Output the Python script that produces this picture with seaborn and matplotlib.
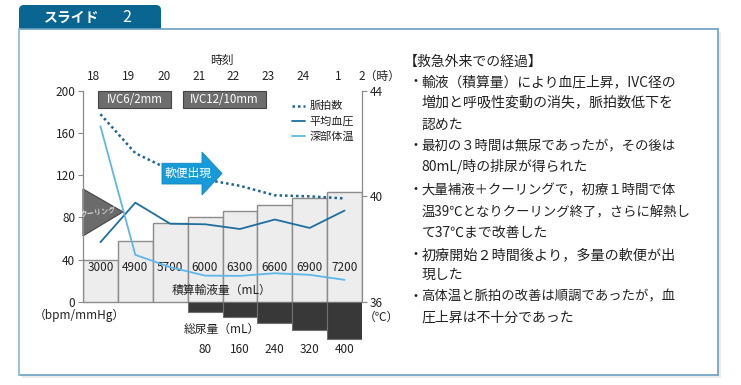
import numpy as np
import matplotlib
matplotlib.use("Agg")
import matplotlib.pyplot as plt
import seaborn as sns
from matplotlib.patches import Polygon, Rectangle, FancyBboxPatch

# ---------------- data ----------------
time_labels = ["18", "19", "20", "21", "22", "23", "24", "1"]
time_last = "2（時）"
fluid_labels = ["3000", "4900", "5700", "6000", "6300", "6600", "6900", "7200"]
fluid_bar = [40, 58, 75, 80, 86, 92, 98, 104]            # bar heights (left-axis units)
urine_labels = ["80", "160", "240", "320", "400"]
urine_bar = [9.5, 15, 20.5, 27, 35.5]                     # depth below zero (left-axis units)
pulse = [178, 141, 125, 116, 110, 101, 100, 98]           # bpm
mean_bp = [56.5, 94, 74, 73.5, 69, 78, 70, 86.5]          # mmHg
core_temp = [42.66, 37.78, 37.31, 36.99, 36.98, 37.08, 37.02, 36.83]  # °C

text_lines = [
    "輸液（積算量）により血圧上昇，IVC径の",
    "増加と呼吸性変動の消失，脈拍数低下を",
    "認めた",
    "最初の３時間は無尿であったが，その後は",
    "80mL/時の排尿が得られた",
    "大量補液＋クーリングで，初療１時間で体",
    "温39℃となりクーリング終了，さらに解熱し",
    "て37℃まで改善した",
    "初療開始２時間後より，多量の軟便が出",
    "現した",
    "高体温と脈拍の改善は順調であったが，血",
    "圧上昇は不十分であった",
]
bullet_start = [True, False, False, True, False, True, False, False, True, False, True, False]
line_y = [82, 102.7, 125, 146, 166.7, 190, 212.3, 233, 255, 275, 296.7, 318]
line_end = [676.7, 673.3, None, 676.7, None, 676.7, 675, None, 675, None, 675, None]

# ---------------- style ----------------
sns.set_style("white")
plt.rcParams["font.family"] = ["Noto Sans CJK JP", "DejaVu Sans"]
TXT = "#222222"
GRAY = "#8a8a8a"

fig = plt.figure(figsize=(7.41, 3.85), dpi=100)

# background / slide frame in pixel coordinates
bg = fig.add_axes([0, 0, 1, 1], zorder=0)
bg.set_xlim(0, 741)
bg.set_ylim(385, 0)
bg.axis("off")
bg.add_patch(Rectangle((22, 32), 699, 346, fc="#ececec", ec="none", zorder=0))
bg.add_patch(FancyBboxPatch((19, 5), 142, 34, boxstyle="round,pad=0,rounding_size=5",
                            fc="#0a6591", ec="none", zorder=1))
bg.add_patch(Rectangle((19, 29), 699, 346, fc="white", ec="none", zorder=2))
bg.plot([19, 718], [29, 29], color="#6b9fc1", lw=1.2, zorder=3)
bg.plot([718, 718], [29, 375], color="#6b9fc1", lw=1.2, zorder=3)
bg.plot([19, 718], [375, 375], color="#6b9fc1", lw=1.2, zorder=3)
bg.plot([19, 19], [29, 375], color="#93c3da", lw=1.4, zorder=3)
bg.text(72, 17.5, "スライド", color="white", fontsize=10, fontweight="bold",
        ha="center", va="center", zorder=4)
bg.text(127, 17.5, "2", color="white", fontsize=11.5, ha="center", va="center", zorder=4)

# right-hand text block
BASE = 10
bg.text(404, 61.7, "【救急外来での経過】", fontsize=BASE, color=TXT, ha="left", va="center", zorder=4)
renderer = fig.canvas.get_renderer()
x_start = 421.5
for s, b, y, end in zip(text_lines, bullet_start, line_y, line_end):
    if b:
        bg.text(409, y, "・", fontsize=BASE, color=TXT, ha="left", va="center", zorder=4)
    t = bg.text(x_start, y, s, fontsize=BASE, color=TXT, ha="left", va="center", zorder=4)
    if end is not None:
        w = t.get_window_extent(renderer).width
        fs = BASE * (end - x_start) / w
        t.set_fontsize(min(max(fs, 9.6), 10.3))

# ---------------- main chart ----------------
ax = fig.add_axes([83 / 741, (385 - 349.1) / 385, 279 / 741, 258.1 / 385], zorder=2)
ax.patch.set_alpha(0)
pos = np.arange(len(time_labels))

sns.barplot(x=pos, y=fluid_bar, native_scale=True, width=1.0, color="#ededed",
            edgecolor="#8c8c8c", linewidth=1.0, errorbar=None, saturation=1, ax=ax)
sns.barplot(x=pos[3:], y=-np.array(urine_bar), native_scale=True, width=1.0, color="#383838",
            edgecolor="#707070", linewidth=0.8, errorbar=None, saturation=1, ax=ax)

sns.lineplot(x=pos, y=pulse, ax=ax, color="#1d6494", lw=1.8, ls=(0, (1, 1.2)),
             label="脈拍数", zorder=3)
sns.lineplot(x=pos, y=mean_bp, ax=ax, color="#1e6e9e", lw=1.3, label="平均血圧", zorder=4)

ax.set_xlim(-0.5, 7.5)
ax.set_ylim(-45, 200)
ax.set_xticks([])
ax.set_yticks([0, 40, 80, 120, 160, 200])
ax.set_xlabel("")
ax.set_ylabel("")
for s in ["top", "right", "bottom"]:
    ax.spines[s].set_visible(False)
ax.spines["left"].set_color(GRAY)
ax.spines["left"].set_linewidth(0.9)
ax.spines["left"].set_bounds(0, 200)
ax.tick_params(axis="y", length=3.5, width=0.8, color=GRAY, labelsize=8.5, pad=2,
               labelcolor=TXT)

# cooling triangle
ax.add_patch(Polygon([(-0.5, 107), (0.647, 85.2), (-0.5, 62.4)], closed=True,
                     fc="#6b6b6b", ec="#454545", lw=0.8, zorder=2.5, clip_on=False))
ax.text(-0.06, 85.4, "クーリング", color="white", fontsize=5.2, rotation=8,
        ha="center", va="center", zorder=2.6)

# IVC boxes
for x0, x1, lab in [(-0.07, 2.02, "IVC6/2mm"), (2.367, 4.747, "IVC12/10mm")]:
    ax.add_patch(Rectangle((x0, 183.9), x1 - x0, 16.1, fc="#6d6d6d", ec="#444444",
                           lw=0.8, zorder=5, clip_on=False))
    ax.text((x0 + x1) / 2, 192, lab, color="white", fontsize=8.3, ha="center",
            va="center", zorder=6)

# arrow 軟便出現
ax.add_patch(Polygon([(1.765, 131.4), (2.912, 131.4), (2.912, 142.1), (3.486, 121.7),
                      (2.912, 101.3), (2.912, 111.7), (1.765, 111.7)], closed=True,
                     fc="#179bd8", ec="#1186c2", lw=0.6, zorder=6))
ax.text(2.525, 121.7, "軟便出現", color="white", fontsize=8.5, ha="center",
        va="center", zorder=7)

# time labels on top
ax.text(3.486, 229.4, "時刻", fontsize=8.5, color=TXT, ha="center", va="center")
for i, t in enumerate(time_labels):
    ax.text(i - 0.185, 214.2, t, fontsize=8.5, color=TXT, ha="center", va="center")
ax.text(7.40, 214.2, time_last, fontsize=8.5, color=TXT, ha="left", va="center")

# bar value labels
for i, t in enumerate(fluid_labels):
    ax.text(pos[i], 32.9, t, fontsize=8.5, color=TXT, ha="center", va="center", zorder=3)
ax.text(3.486, 11.1, "積算輸液量（mL）", fontsize=8.5, color=TXT, ha="center",
        va="center", zorder=3)
ax.text(3.486, -26.2, "総尿量（mL）", fontsize=8.5, color=TXT, ha="center", va="center")
for i, t in enumerate(urine_labels):
    ax.text(pos[3 + i], -45.8, t, fontsize=8.5, color=TXT, ha="center", va="center")

# ---------------- temperature on twin axis ----------------
ax2 = ax.twinx()
sns.lineplot(x=pos, y=core_temp, ax=ax2, color="#5fb6ea", lw=1.3, label="深部体温", zorder=4)
ax2.set_ylim(36 - 45 / 25, 44)
ax2.set_yticks([36, 40, 44])
ax2.set_ylabel("")
for s in ["top", "left", "bottom"]:
    ax2.spines[s].set_visible(False)
ax2.spines["right"].set_color(GRAY)
ax2.spines["right"].set_linewidth(0.9)
ax2.spines["right"].set_bounds(36, 44)
ax2.tick_params(axis="y", length=3.5, width=0.8, color=GRAY, labelsize=8.5, pad=2,
                labelcolor=TXT)

# legend
h1, l1 = ax.get_legend_handles_labels()
h2, l2 = ax2.get_legend_handles_labels()
if ax.get_legend() is not None:
    ax.get_legend().remove()
if ax2.get_legend() is not None:
    ax2.get_legend().remove()
ax2.legend(h1 + h2, l1 + l2, loc="upper left", bbox_to_anchor=(292 / 741, 1 - 101 / 385),
           bbox_transform=fig.transFigure, frameon=False, fontsize=8, handlelength=1.2,
           handletextpad=0.35, labelspacing=0.45, borderpad=0, borderaxespad=0,
           labelcolor=TXT)

# unit labels
bg.text(79, 315, "（bpm/mmHg）", fontsize=8.5, color=TXT, ha="center", va="center", zorder=4)
bg.text(364, 317, "（℃）", fontsize=8.5, color=TXT, ha="left", va="center", zorder=4)

fig.savefig("out.png", dpi=100)
